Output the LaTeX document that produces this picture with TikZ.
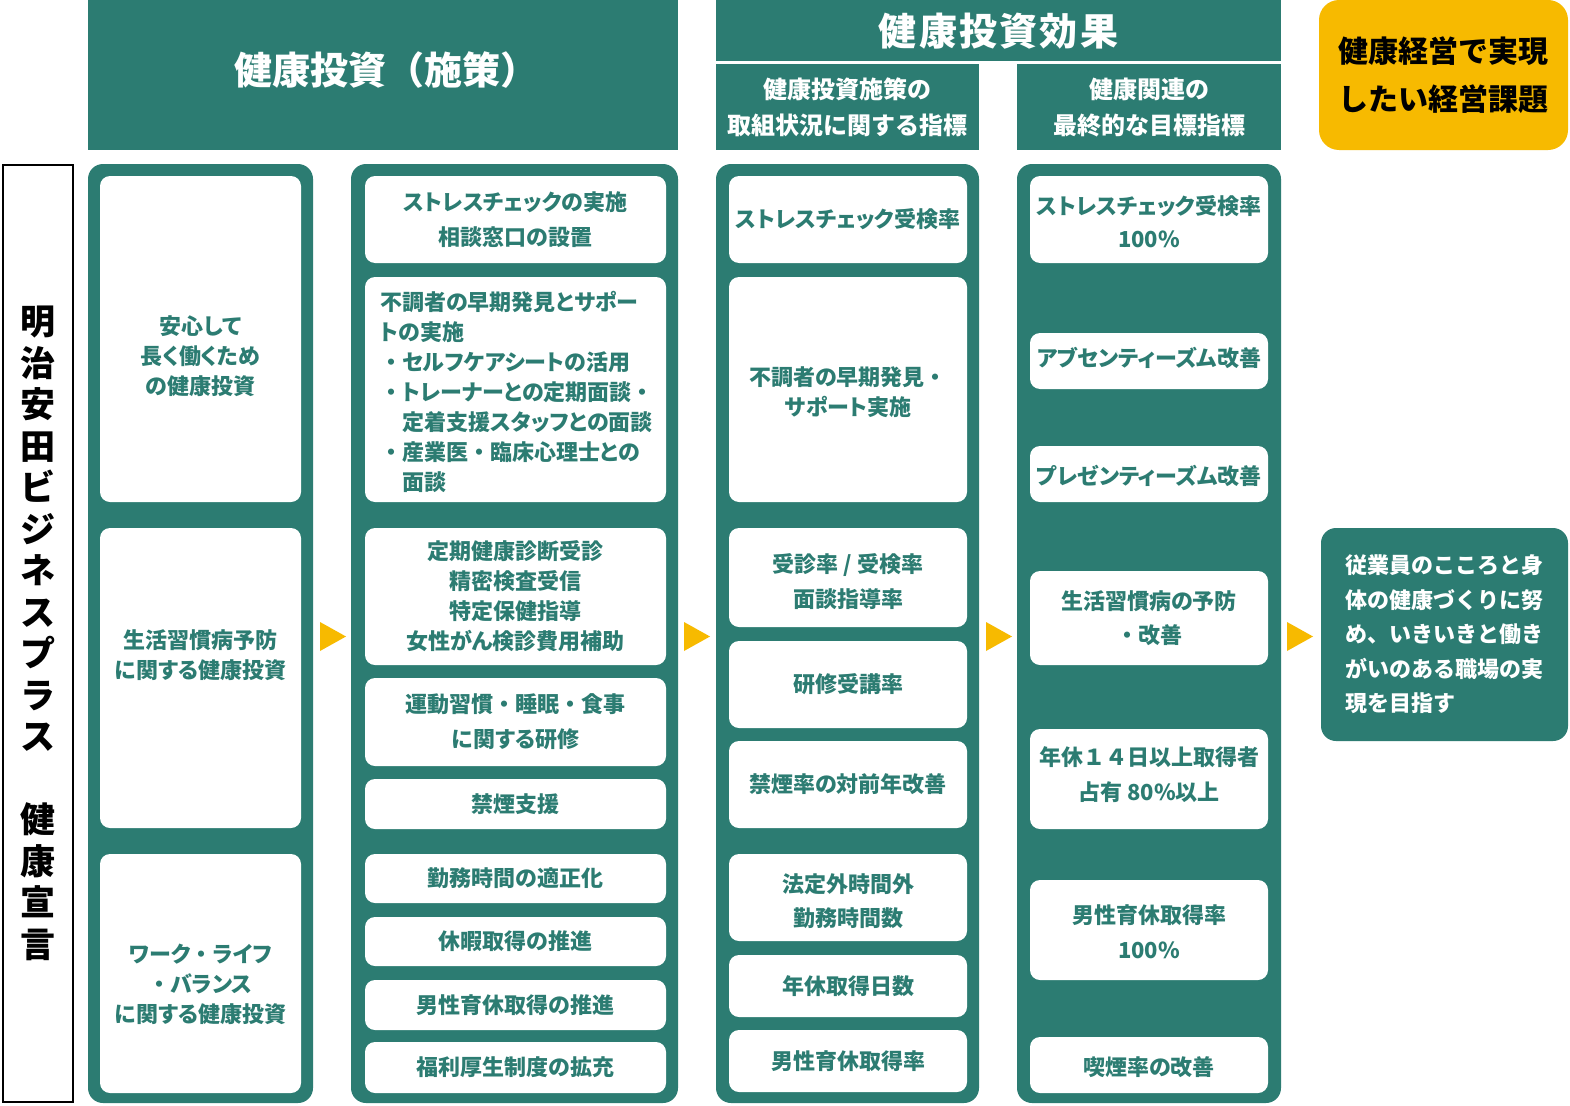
\documentclass[tikz,border=0pt]{standalone}
\usepackage{fontspec}
\newfontfamily\jp{Noto Sans CJK JP}[RawFeature=+palt]
\newfontfamily\jpm{Noto Sans CJK JP}
\newfontfamily\jph{Noto Sans CJK JP}[LetterSpace=6]
\newcommand\nk{{\jpm ・}}
\definecolor{teal1}{RGB}{44,124,114}
\definecolor{gold1}{RGB}{247,186,0}
\tikzset{
  wbox/.style={fill=white, draw=none, rounded corners=10pt, inner sep=0pt, outer sep=0pt, align=center, text=teal1},
  panel/.style={fill=teal1, draw=none, rounded corners=15pt, inner sep=0pt, outer sep=0pt},
  hbox/.style={fill=teal1, draw=none, inner sep=0pt, outer sep=0pt, align=center, text=white},
  tealtext/.style={text=teal1, inner sep=0pt, align=center},
  tri/.style={fill=gold1, draw=none}
}
% #1 line skip, #2 name, #3 x1, #4 y1, #5 x2, #6 y2, #7 text
\newcommand\bxn[7][34.5]{%
  \node[wbox, minimum width={(#5-#3)*1pt}, minimum height={(#6-#4)*1pt},
        font={\jp\bfseries\fontsize{22}{#1}\selectfont}] (#2) at ({(#3+#5)/2},{(#4+#6)/2}) {#7};}
% box with separately placed text: #1 line skip, #2 name, #3 x1, #4 y1, #5 x2, #6 y2, #7 text centre y, #8 text
\newcommand\bxo[8][34.5]{%
  \node[wbox, minimum width={(#5-#3)*1pt}, minimum height={(#6-#4)*1pt}] (#2) at ({(#3+#5)/2},{(#4+#6)/2}) {};
  \node[tealtext, font={\jp\bfseries\fontsize{22}{#1}\selectfont}] (#2t) at ({(#3+#5)/2},#7) {#8};}
\newcommand\pnl[5]{%
  \node[panel, minimum width={(#4-#2)*1pt}, minimum height={(#5-#3)*1pt}] (#1) at ({(#2+#4)/2},{(#3+#5)/2}) {};}
\begin{document}
\begin{tikzpicture}[x=1pt,y=-1pt]
\useasboundingbox (0,0) rectangle (1570,1105);
\fill[white] (0,0) rectangle (1570,1105);

% ---- headers
\node[hbox, minimum width=590pt, minimum height=150pt] (h1) at (383,75) {};
\node[text=white, inner sep=0pt, font={\jpm\bfseries\fontsize{38}{44}\selectfont}] (h1t) at (386,70) {健康投資（施策）};
\node[hbox, minimum width=565pt, minimum height=61.5pt, font={\jph\bfseries\fontsize{38}{44}\selectfont}] (h2) at (998.5,30.75) {健康投資効果};
\node[hbox, minimum width=263pt, minimum height=85.5pt, font={\jpm\bfseries\fontsize{24}{36}\selectfont}] (h3) at (847.5,107.25) {健康投資施策の\\取組状況に関する指標};
\node[hbox, minimum width=264pt, minimum height=85.5pt, font={\jpm\bfseries\fontsize{24}{36}\selectfont}] (h4) at (1149,107.25) {健康関連の\\最終的な目標指標};
\node[fill=gold1, rounded corners=20pt, inner sep=0pt, minimum width=249pt, minimum height=150pt, align=center, text=black,
      font={\jpm\bfseries\fontsize{30}{48}\selectfont}] (goal) at (1443.5,75) {健康経営で実現\\したい経営課題};

% ---- left declaration box
\node[draw=black, line width=2pt, fill=white, minimum width=70pt, minimum height=937pt, inner sep=0pt, align=center,
      font={\jpm\bfseries\fontsize{35}{41.5}\selectfont}] (decl) at (38,633.5)
  {明\\治\\安\\田\\ビ\\ジ\\ネ\\ス\\プ\\ラ\\ス\\\mbox{}\\健\\康\\宣\\言};

% ---- panels
\pnl{p1}{88}{164}{313}{1103}
\pnl{p2}{351}{164}{678}{1103}
\pnl{p3}{716}{164}{979}{1103}
\pnl{p4}{1017}{164}{1281}{1103}

% ---- column 1
\bxo[30]{c1a}{100}{176}{301}{502}{356}{安心して\\長く働くため\\の健康投資}
\bxo[30]{c1b}{100}{528}{301}{828}{655}{生活習慣病予防\\に関する健康投資}
\bxo[30]{c1c}{100}{854}{301}{1093}{984}{ワーク\nk ライフ\\\nk バランス\\に関する健康投資}

% ---- column 2
\bxn{c2a}{365}{176}{666}{263}{ストレスチェックの実施\\相談窓口の設置}
\bxn{c2b}{365}{277}{666}{502}{}
\node[tealtext, align=left, anchor=west, font={\jp\bfseries\fontsize{22}{30}\selectfont}] (t2b) at (380,392)
  {不調者の早期発見とサポー\\
   トの実施\\
   \nk セルフケアシートの活用\\
   \nk トレーナーとの定期面談\nk\\
   \hspace*{1em}定着支援スタッフとの面談\\
   \nk 産業医\nk 臨床心理士との\\
   \hspace*{1em}面談};
\bxn[30]{c2c}{365}{528}{666}{665}{定期健康診断受診\\精密検査受信\\特定保健指導\\女性がん検診費用補助}
\bxn[35]{c2d}{365}{678}{666}{766}{運動習慣\nk 睡眠\nk 食事\\に関する研修}
\bxn{c2e}{365}{779}{666}{829}{禁煙支援}
\bxn{c2f}{365}{854}{666}{903}{勤務時間の適正化}
\bxn{c2g}{365}{917}{666}{966}{休暇取得の推進}
\bxn{c2h}{365}{980}{666}{1030}{男性育休取得の推進}
\bxn{c2i}{365}{1042}{666}{1093}{福利厚生制度の拡充}

% ---- column 3
\bxn{c3a}{729}{176}{967}{263}{ストレスチェック受検率}
\bxo[30]{c3b}{729}{277}{967}{502}{392}{不調者の早期発見\nk\\サポート実施}
\bxo[35]{c3c}{729}{528}{967}{627}{582}{受診率 / 受検率\\面談指導率}
\bxn{c3d}{729}{641}{967}{728}{研修受講率}
\bxn{c3e}{729}{741}{967}{828}{禁煙率の対前年改善}
\bxo[34]{c3f}{729}{854}{967}{941}{901}{法定外時間外\\勤務時間数}
\bxn{c3g}{729}{955}{967}{1017}{年休取得日数}
\bxn{c3h}{729}{1030}{967}{1092}{男性育休取得率}

% ---- column 4
\bxo[33]{c4a}{1030}{176}{1268}{263}{221.5}{ストレスチェック受検率\\100\%}
\bxo{c4b}{1030}{333}{1268}{389}{358}{アブセンティーズム改善}
\bxo{c4c}{1030}{446}{1268}{502}{476}{プレゼンティーズム改善}
\bxo[34]{c4d}{1030}{571}{1268}{665}{618}{生活習慣病の予防\\\nk 改善}
\bxo[35]{c4e}{1030}{729}{1268}{829}{775}{年休{\jpm １４}日以上取得者\\占有 80\%以上}
\bxo[35]{c4f}{1030}{880}{1268}{980}{931.5}{男性育休取得率\\100\%}
\bxo{c4g}{1030}{1037}{1268}{1093}{1067}{喫煙率の改善}

% ---- goal result box
\node[fill=teal1, rounded corners=15pt, inner sep=0pt, minimum width=247pt, minimum height=213pt, align=left, text=white,
      font={\jpm\bfseries\fontsize{22}{34.5}\selectfont}] (res) at (1444.5,634.5)
  {従業員のこころと身\\体の健康づくりに努\\め、いきいきと働き\\がいのある職場の実\\現を目指す};

% ---- arrows
\fill[tri] (320,622) -- (346,636.5) -- (320,651) -- cycle;
\fill[tri] (684,622) -- (710,636.5) -- (684,651) -- cycle;
\fill[tri] (986,622) -- (1012,636.5) -- (986,651) -- cycle;
\fill[tri] (1287,622) -- (1313,636.5) -- (1287,651) -- cycle;
\end{tikzpicture}
\end{document}
